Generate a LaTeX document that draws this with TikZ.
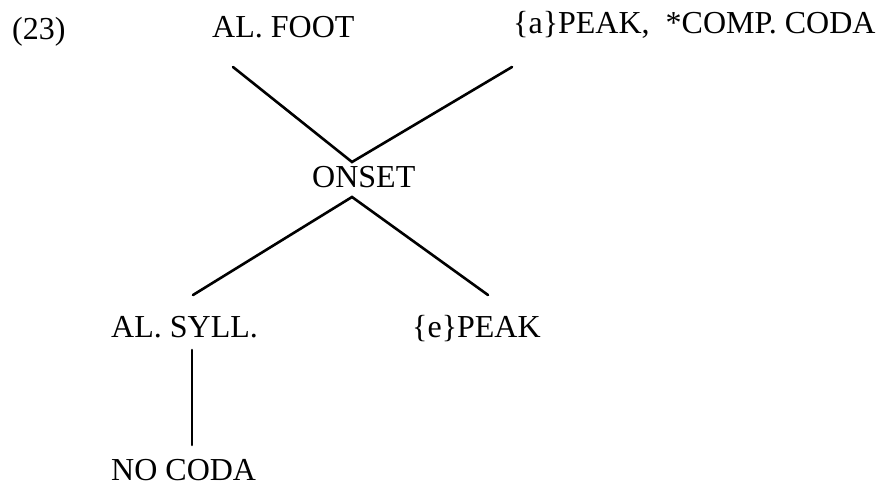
\documentclass[tikz,border=0pt]{standalone}
\usepackage{fontspec}
\setmainfont{Liberation Serif}
\begin{document}
\begin{tikzpicture}[x=1pt,y=-1pt,
  lbl/.style={anchor=base west,inner sep=0pt,font=\fontsize{32}{38}\selectfont},
  edge/.style={line width=2.6pt,line cap=round}]
\useasboundingbox (0,0) rectangle (885,486);
\node[lbl] (num) at (12,40) {(23)};
\node[lbl] (foot) at (212,38) {AL.\ FOOT};
\node[lbl] (apeak) at (513,34) {\{a\}PEAK,\ \ *COMP. CODA};
\node[lbl] (onset) at (312,188) {ONSET};
\node[lbl] (syll) at (111,337) {AL.\ SYLL.};
\node[lbl] (epeak) at (412,337) {\{e\}PEAK};
\node[lbl] (coda) at (111,480) {NO CODA};
\coordinate (footE) at (233,67);
\coordinate (apeakE) at (512,67);
\coordinate (onsetT) at (352,162);
\coordinate (onsetB) at (352,197);
\coordinate (syllE) at (193,295);
\coordinate (epeakE) at (488,295);
\coordinate (syllB) at (192,350);
\coordinate (codaT) at (192,445);
\draw[edge] (footE) -- (onsetT) -- (apeakE);
\draw[edge] (syllE) -- (onsetB) -- (epeakE);
\draw[edge] (syllB) -- (codaT);
\end{tikzpicture}
\end{document}
